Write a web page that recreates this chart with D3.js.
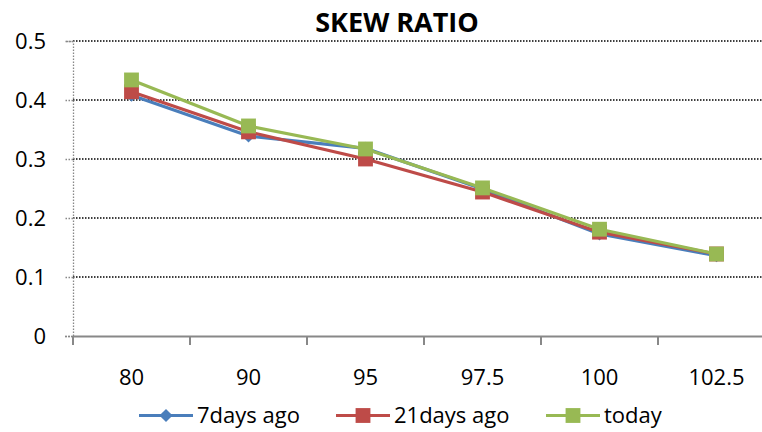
<!DOCTYPE html>
<html><head><meta charset="utf-8">
<script src="https://cdn.jsdelivr.net/npm/d3@7/dist/d3.min.js"></script>
<style>body{margin:0;background:#fff}svg{display:block}text{font-family:"Open Sans",sans-serif;fill:#000}</style>
</head><body>
<svg id="c" width="762" height="432"></svg>
<script>
const categories = ["80","90","95","97.5","100","102.5"];
const sevenDays = [0.408,0.339,0.318,0.249,0.173,0.136];
const twentyOneDays = [0.414,0.346,0.300,0.244,0.176,0.139];
const today = [0.434,0.356,0.317,0.251,0.181,0.139];
const yTicks = [0,0.1,0.2,0.3,0.4,0.5];
const seriesNames = ["7days ago","21days ago","today"];
const seriesColors = ["#4a7ebb","#be4b48","#98b954"];
const seriesShapes = ["diamond","square","square"];
const seriesData = [sevenDays, twentyOneDays, today];

const svg = d3.select("#c");
const x = d3.scaleBand().domain(categories).range([73,775]);
const y = d3.scaleLinear().domain([0,0.5]).range([336,41]);

// title
svg.append("text").attr("x",397).attr("y",32).attr("text-anchor","middle")
  .style("font-size","27px").style("font-weight","bold").text("SKEW RATIO");

// gridlines
svg.append("g").selectAll("line").data(yTicks.filter(d=>d>0)).join("line")
  .attr("x1",73).attr("x2",775).attr("y1",d=>y(d)).attr("y2",d=>y(d))
  .attr("stroke","#000").attr("stroke-width",1.5).attr("stroke-dasharray","1.5,1.5");

// y axis
const ya = svg.append("g").attr("transform","translate(73,0)").call(d3.axisLeft(y).tickValues(yTicks).tickSize(8).tickPadding(19).tickFormat(d=>d===0?"0":d3.format(".1f")(d)));
ya.select(".domain").attr("stroke","#888").attr("stroke-dasharray","1.5,1.5").attr("stroke-width",1.3);
ya.selectAll(".tick line").attr("stroke","#888").attr("stroke-dasharray","1.5,1.5").attr("stroke-width",1.3);
ya.selectAll("text").style("font-size","22px").attr("fill","#000").attr("font-family",null);

// x axis
const xa = svg.append("g").attr("transform","translate(0,336)")
  .call(d3.axisBottom(x).tickSize(0).tickPadding(0));
xa.select(".domain").attr("stroke","#888").attr("stroke-width",2);
xa.selectAll("text").style("font-size","22px").attr("fill","#000").attr("font-family",null)
  .attr("dy",null).attr("y",49);
xa.append("g").selectAll("line").data(categories).join("line")
  .attr("x1",d=>x(d)).attr("x2",d=>x(d)).attr("y1",0).attr("y2",9)
  .attr("stroke","#888").attr("stroke-width",2);

const line = d3.line().x((d,i)=>x(categories[i])+x.bandwidth()/2).y(d=>y(d));
const diamond = d3.symbol().type(d3.symbolDiamond2).size(110);
const square = d3.symbol().type(d3.symbolSquare).size(220);

seriesData.forEach((vals,si)=>{
  const g = svg.append("g");
  g.append("path").datum(vals).attr("d",line).attr("fill","none")
    .attr("stroke",seriesColors[si]).attr("stroke-width",3.2).attr("stroke-linejoin","round");
  g.selectAll("path.m").data(vals).join("path").attr("class","m")
    .attr("transform",(d,i)=>`translate(${x(categories[i])+x.bandwidth()/2},${y(d)})`)
    .attr("d",seriesShapes[si]==="diamond"?diamond():square())
    .attr("fill",seriesColors[si]);
});

// legend
const legendX = [139,336,546];
const lg = svg.append("g");
seriesNames.forEach((n,i)=>{
  const g = lg.append("g").attr("transform",`translate(${legendX[i]},415.5)`);
  g.append("line").attr("x1",0).attr("x2",54).attr("y1",0).attr("y2",0)
    .attr("stroke",seriesColors[i]).attr("stroke-width",3);
  g.append("path").attr("transform","translate(27,0)")
    .attr("d",seriesShapes[i]==="diamond"?diamond():square()).attr("fill",seriesColors[i]);
  g.append("text").attr("x",58).attr("y",7.5).style("font-size","22px").text(n);
});
</script>
</body></html>
